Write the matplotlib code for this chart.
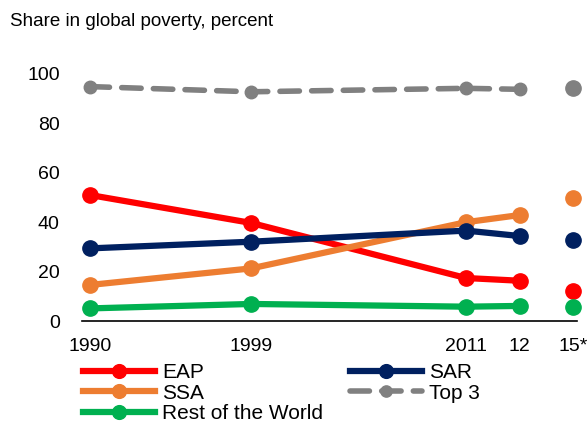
import matplotlib
matplotlib.use("Agg")
import matplotlib.pyplot as plt
import numpy as np

plt.rcParams["font.family"] = ["Liberation Sans", "DejaVu Sans"]

# category slots on the x axis (Excel-style spacing)
x_pos = [0, 9, 21, 24, 27]
x_labels = ["1990", "1999", "2011", "12", "15*"]

eap = [51.0, 39.7, 17.4, 16.3, 12.1]
sar = [29.4, 32.1, 36.6, 34.4, 32.8]
ssa = [14.6, 21.3, 40.0, 42.9, 49.7]
rest = [5.1, 6.9, 5.8, 6.1, 5.8]
top3 = [94.9, 92.8, 94.2, 93.8, 94.2]

series = [
    ("EAP", eap, "#ff0000", "-"),
    ("SSA", ssa, "#ed7d31", "-"),
    ("Rest of the World", rest, "#00b050", "-"),
    ("SAR", sar, "#002060", "-"),
    ("Top 3", top3, "#808080", "--"),
]

fig = plt.figure(figsize=(5.87, 4.25), dpi=100)
ax = fig.add_axes([82 / 587, 1 - 321 / 425, 495 / 587, 247 / 425])

handles = []
for name, vals, col, ls in series:
    # 1990-2012 connected, the 2015 projection stands alone
    dashed = ls == "--"
    h, = ax.plot(x_pos[:4], vals[:4], color=col, ls=ls, lw=4 if dashed else 4.5,
                 marker="o", ms=9 if dashed else 11, clip_on=False, label=name, zorder=3,
                 dash_capstyle="round")
    if dashed:
        h.set_dashes((3.5, 2.2))
    ax.plot(x_pos[4:], vals[4:], ls="none", marker="o", ms=11, color=col, clip_on=False, zorder=3)
    handles.append(h)

ax.set_xlim(-0.45, 27.2)
ax.set_ylim(0, 100)
ax.set_yticks(range(0, 101, 20))
ax.set_xticks(x_pos)
ax.set_xticklabels(x_labels)
ax.tick_params(axis="both", length=0, labelsize=14)
ax.tick_params(axis="y", pad=16)
ax.tick_params(axis="x", pad=12)
for s in ("top", "right", "left"):
    ax.spines[s].set_visible(False)
ax.spines["bottom"].set_linewidth(1.2)
ax.spines["bottom"].set_color("black")

fig.text(10 / 587, 1 - 21 / 425, "Share in global poverty, percent", fontsize=13.5, va="center", ha="left")

fig.legend(handles=handles, ncol=2, loc="upper left", bbox_to_anchor=(83 / 587, 1 - 363 / 425),
           frameon=False, fontsize=15, handlelength=3.45, handletextpad=0.35, columnspacing=1.3,
           labelspacing=0.08, borderpad=0, borderaxespad=0, markerscale=0.9)

fig.savefig("out.png", dpi=100)
